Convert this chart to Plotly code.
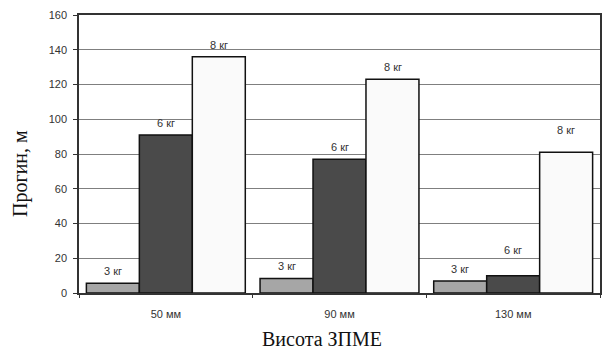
import plotly.graph_objects as go

categories = ["50 мм", "90 мм", "130 мм"]
series_names = ["3 кг", "6 кг", "8 кг"]
values_3kg = [5.6, 8.4, 6.9]
values_6kg = [91, 77, 10]
values_8kg = [136, 123, 81]
y_ticks = [0, 20, 40, 60, 80, 100, 120, 140, 160]
x_title = "Висота ЗПМЕ"
y_title = "Прогин, м"

colors = ["#A6A6A6", "#4A4A4A", "#FAFAFA"]
series_values = [values_3kg, values_6kg, values_8kg]

fig = go.Figure()
for name, vals, col in zip(series_names, series_values, colors):
    fig.add_trace(go.Bar(
        x=categories, y=vals, name=name,
        marker=dict(color=col, line=dict(color="#111111", width=1.5)),
        showlegend=False,
    ))

# value labels above bars
xshifts = [-53, 0, 53]
extra_shift = {(2, 1): 14, (2, 2): 10}
for si, (name, vals) in enumerate(zip(series_names, series_values)):
    for ci, (cat, v) in enumerate(zip(categories, vals)):
        fig.add_annotation(
            x=cat, y=v, text=name, showarrow=False,
            xshift=xshifts[si], yshift=12 + extra_shift.get((ci, si), 0),
            font=dict(family="Liberation Sans, Arial", size=11, color="#333333"),
        )

title_font = dict(family="Liberation Serif, Times New Roman", size=20, color="#111111")
fig.add_annotation(xref="paper", yref="paper", x=0.4665, y=0, yshift=-46,
                   text=x_title, showarrow=False, xanchor="center", yanchor="middle",
                   font=title_font)
fig.add_annotation(xref="paper", yref="paper", x=0, y=0.428, xshift=-59,
                   text=y_title, showarrow=False, textangle=-90,
                   xanchor="center", yanchor="middle", font=title_font)

fig.update_layout(
    width=605, height=349,
    margin=dict(l=79, r=3, t=15, b=56),
    paper_bgcolor="white", plot_bgcolor="white",
    barmode="group", bargap=0.085, bargroupgap=0,
    font=dict(family="Liberation Sans, Arial", size=11, color="#333333"),
)
fig.update_yaxes(
    range=[0, 160], tickvals=y_ticks,
    showgrid=True, gridcolor="#7F7F7F", gridwidth=1,
    showline=True, linecolor="#333333", linewidth=1.5, mirror=True,
    ticks="outside", ticklen=4, tickcolor="#333333", ticklabelstandoff=4,
    tickfont=dict(family="Liberation Sans, Arial", size=11, color="#333333"),
    zeroline=False,
)
fig.update_xaxes(
    showline=True, linecolor="#333333", linewidth=1.5, mirror=True,
    ticks="outside", ticklen=3, tickcolor="#333333", tickson="boundaries",
    ticklabelstandoff=10,
    tickfont=dict(family="Liberation Sans, Arial", size=11, color="#333333"),
)

fig.write_html("out.html")
